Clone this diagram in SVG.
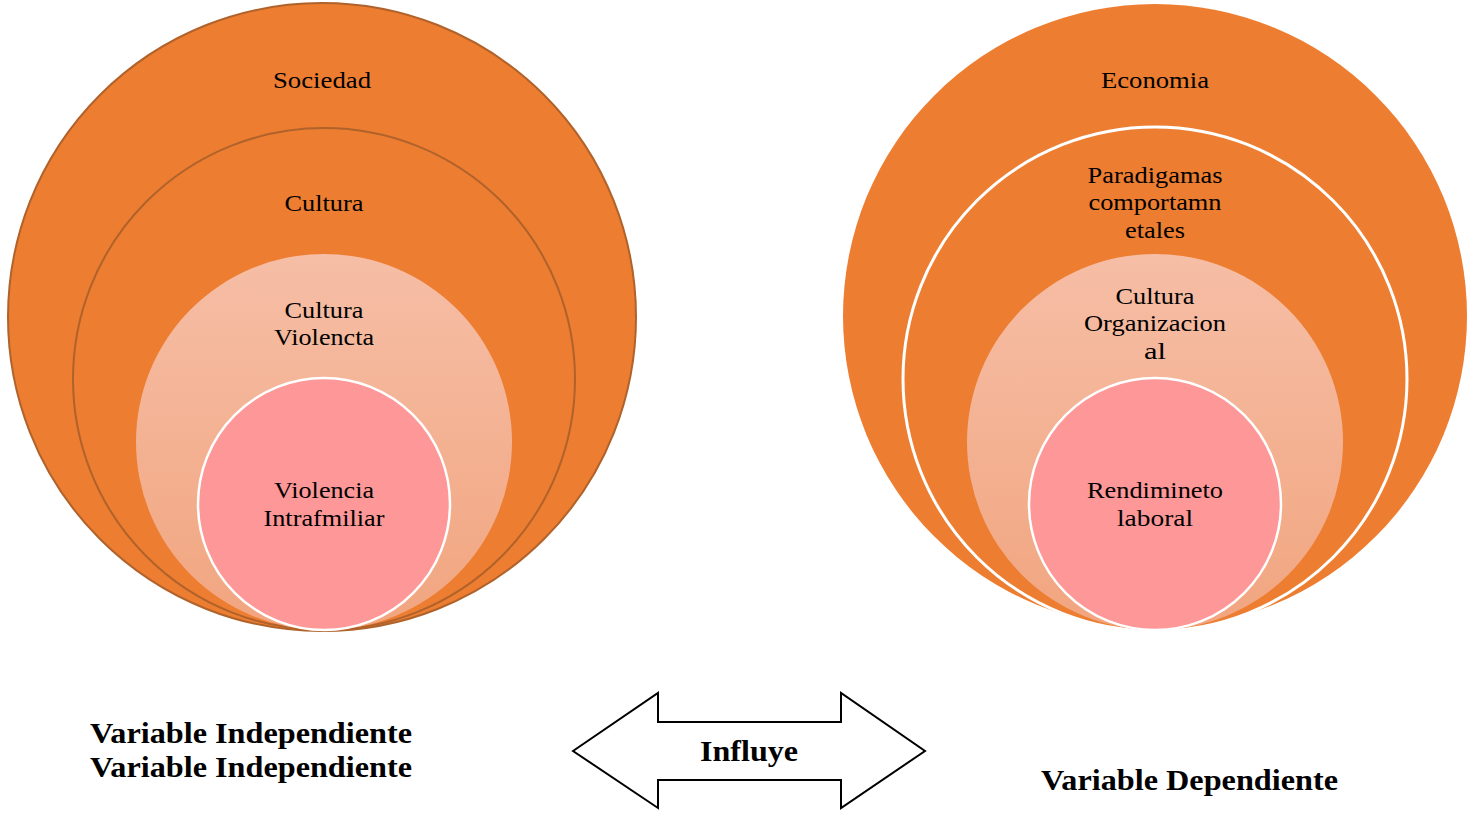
<svg xmlns="http://www.w3.org/2000/svg" width="1468" height="814" viewBox="0 0 1468 814">
<defs>
<linearGradient id="peach" x1="0" y1="0" x2="0" y2="1">
<stop offset="0" stop-color="#f6bea6"/>
<stop offset="1" stop-color="#f1a57f"/>
</linearGradient>
</defs>
<style>
.orange{fill:#ed7d31}
.dark{stroke:#b0622b;stroke-width:2}
.white{stroke:#ffffff;stroke-width:3}
.peach{fill:url(#peach)}
.pink{fill:#fe9797;stroke:#ffffff;stroke-width:2.5}
.t{font-family:"Liberation Serif","Times New Roman",serif;font-size:23px;fill:#000;text-anchor:middle}
.b{font-family:"Liberation Serif","Times New Roman",serif;font-size:29px;font-weight:bold;fill:#000}
</style>
<rect width="1468" height="814" fill="#ffffff"/>
<g id="left-sociedad"><circle cx="322" cy="317" r="314" class="orange dark"/><text x="322" y="88" class="t" textLength="98" lengthAdjust="spacingAndGlyphs">Sociedad</text></g>
<g id="left-cultura"><circle cx="324" cy="379" r="251" class="orange dark"/><text x="324" y="211" class="t" textLength="79" lengthAdjust="spacingAndGlyphs">Cultura</text></g>
<g id="left-cultura-violencta"><circle cx="324" cy="442" r="188" class="peach"/><text x="324" y="318" class="t" textLength="79" lengthAdjust="spacingAndGlyphs">Cultura</text><text x="324" y="345" class="t" textLength="100" lengthAdjust="spacingAndGlyphs">Violencta</text></g>
<g id="left-violencia"><circle cx="324" cy="504" r="126" class="pink"/><text x="324" y="498" class="t" textLength="100" lengthAdjust="spacingAndGlyphs">Violencia</text><text x="324" y="526" class="t" textLength="121" lengthAdjust="spacingAndGlyphs">Intrafmiliar</text></g>
<g id="right-economia"><circle cx="1155" cy="316" r="312" class="orange"/><text x="1155" y="88" class="t" textLength="108" lengthAdjust="spacingAndGlyphs">Economia</text></g>
<g id="right-paradigmas"><circle cx="1155" cy="379" r="252" class="orange white"/><text x="1155" y="183" class="t" textLength="135" lengthAdjust="spacingAndGlyphs">Paradigamas</text><text x="1155" y="210" class="t" textLength="133" lengthAdjust="spacingAndGlyphs">comportamn</text><text x="1155" y="238" class="t" textLength="60" lengthAdjust="spacingAndGlyphs">etales</text></g>
<g id="right-cultura-org"><circle cx="1155" cy="442" r="188" class="peach"/><text x="1155" y="304" class="t" textLength="79" lengthAdjust="spacingAndGlyphs">Cultura</text><text x="1155" y="331" class="t" textLength="142" lengthAdjust="spacingAndGlyphs">Organizacion</text><text x="1155" y="359" class="t" textLength="22" lengthAdjust="spacingAndGlyphs">al</text></g>
<g id="right-rendimiento"><circle cx="1155" cy="504" r="126" class="pink"/><text x="1155" y="498" class="t" textLength="136" lengthAdjust="spacingAndGlyphs">Rendimineto</text><text x="1155" y="526" class="t" textLength="76" lengthAdjust="spacingAndGlyphs">laboral</text></g>
<g id="connectors">
<g id="influye"><path d="M573,751 L658,693 L658,722 L841,722 L841,693 L925,751 L841,808 L841,780 L658,780 L658,808 Z" fill="#ffffff" stroke="#000" stroke-width="2"/><text x="749" y="761" class="b" text-anchor="middle" textLength="98" lengthAdjust="spacingAndGlyphs">Influye</text></g>
</g>
<g id="labels">
<text x="90" y="743" class="b" textLength="322" lengthAdjust="spacingAndGlyphs">Variable Independiente</text>
<text x="90" y="777" class="b" textLength="322" lengthAdjust="spacingAndGlyphs">Variable Independiente</text>
<text x="1041" y="790" class="b" textLength="297" lengthAdjust="spacingAndGlyphs">Variable Dependiente</text>
</g>
</svg>
